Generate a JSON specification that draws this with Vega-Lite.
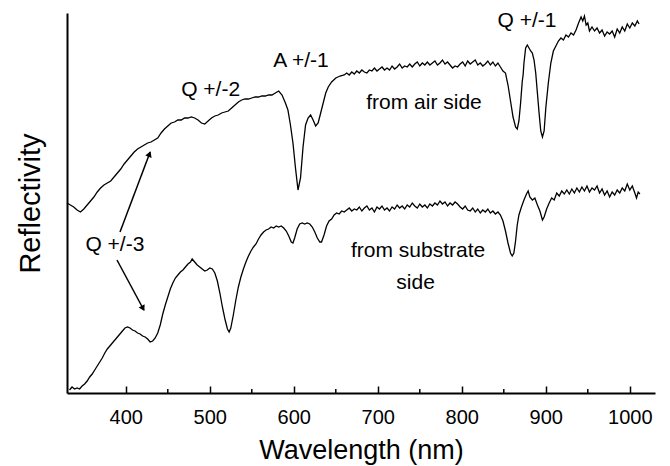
{
  "$schema": "https://vega.github.io/schema/vega-lite/v6.json",
  "width": 588,
  "height": 380,
  "autosize": {"type": "none"},
  "padding": {"left": 67, "top": 13, "right": 15, "bottom": 73},
  "background": "white",
  "config": {"view": {"stroke": null}, "font": "Liberation Sans"},
  "datasets": {
    "top": [
      {"nm":330,"r":190},{"nm":334,"r":188},{"nm":338,"r":186},{"nm":342,"r":183},{"nm":346,"r":181},{"nm":350,"r":184},{"nm":354,"r":188},{"nm":358,"r":192},{"nm":362,"r":196},{"nm":366,"r":201},{"nm":370,"r":205},{"nm":374,"r":208},{"nm":378,"r":210},{"nm":382,"r":212},{"nm":386,"r":216},{"nm":390,"r":220},{"nm":394,"r":224},{"nm":398,"r":229},{"nm":402,"r":233},{"nm":406,"r":237},{"nm":410,"r":241},{"nm":414,"r":244},{"nm":418,"r":246},{"nm":422,"r":248},{"nm":426,"r":250},{"nm":430,"r":251},{"nm":434,"r":253},{"nm":438,"r":255},{"nm":442,"r":260},{"nm":446,"r":264},{"nm":450,"r":267},{"nm":454,"r":270},{"nm":458,"r":271},{"nm":462,"r":273},{"nm":466,"r":273},{"nm":470,"r":275},{"nm":474,"r":275},{"nm":478,"r":276},{"nm":482,"r":275},{"nm":486,"r":273},{"nm":490,"r":270},{"nm":494,"r":269},{"nm":498,"r":272},{"nm":502,"r":275},{"nm":506,"r":277},{"nm":510,"r":278},{"nm":514,"r":280},{"nm":518,"r":281},{"nm":522,"r":282},{"nm":526,"r":285},{"nm":530,"r":288},{"nm":534,"r":291},{"nm":538,"r":293},{"nm":542,"r":294},{"nm":546,"r":294},{"nm":550,"r":295},{"nm":554,"r":296},{"nm":558,"r":296},{"nm":562,"r":297},{"nm":566,"r":297},{"nm":570,"r":298},{"nm":574,"r":298},{"nm":578,"r":300},{"nm":582,"r":302},{"nm":586,"r":298},{"nm":590,"r":290},{"nm":593,"r":283},{"nm":596,"r":268},{"nm":599,"r":250},{"nm":602,"r":225},{"nm":605,"r":203},{"nm":608,"r":215},{"nm":611,"r":246},{"nm":614,"r":268},{"nm":617,"r":275},{"nm":620,"r":278},{"nm":623,"r":273},{"nm":626,"r":267},{"nm":629,"r":270},{"nm":632,"r":280},{"nm":635,"r":290},{"nm":638,"r":300},{"nm":641,"r":306},{"nm":645,"r":311},{"nm":650,"r":315},{"nm":655,"r":317},{"nm":660,"r":318},
      {"nm":663,"r":320},{"nm":666,"r":318},{"nm":669,"r":321},{"nm":672,"r":319},{"nm":675,"r":322},{"nm":678,"r":320},{"nm":681,"r":323},{"nm":684,"r":321},{"nm":687,"r":320},{"nm":690,"r":323},{"nm":693,"r":322},{"nm":696,"r":325},{"nm":699,"r":322},{"nm":702,"r":324},{"nm":705,"r":326},{"nm":708,"r":323},{"nm":711,"r":325},{"nm":714,"r":323},{"nm":717,"r":327},{"nm":720,"r":324},{"nm":723,"r":326},{"nm":726,"r":329},{"nm":729,"r":325},{"nm":732,"r":327},{"nm":735,"r":326},{"nm":738,"r":329},{"nm":741,"r":326},{"nm":744,"r":329},{"nm":747,"r":331},{"nm":750,"r":327},{"nm":753,"r":330},{"nm":756,"r":328},{"nm":759,"r":331},{"nm":762,"r":328},{"nm":765,"r":330},{"nm":768,"r":332},{"nm":771,"r":328},{"nm":774,"r":330},{"nm":777,"r":333},{"nm":780,"r":329},{"nm":783,"r":331},{"nm":786,"r":328},{"nm":789,"r":325},{"nm":792,"r":327},{"nm":795,"r":326},{"nm":798,"r":329},{"nm":801,"r":331},{"nm":804,"r":327},{"nm":807,"r":332},{"nm":810,"r":329},{"nm":813,"r":331},{"nm":816,"r":333},{"nm":819,"r":328},{"nm":822,"r":330},{"nm":825,"r":327},{"nm":828,"r":329},{"nm":831,"r":332},{"nm":834,"r":328},{"nm":837,"r":331},{"nm":840,"r":327},{"nm":843,"r":330},{"nm":846,"r":326},{"nm":849,"r":322},
      {"nm":852,"r":320},{"nm":855,"r":308},{"nm":858,"r":292},{"nm":861,"r":276},{"nm":864,"r":266},{"nm":866,"r":264},{"nm":868,"r":272},{"nm":870,"r":290},{"nm":872,"r":312},{"nm":873,"r":318},{"nm":874,"r":330},{"nm":876,"r":345},{"nm":878,"r":348},{"nm":880,"r":345},{"nm":882,"r":342},{"nm":884,"r":340},{"nm":886,"r":333},{"nm":888,"r":320},{"nm":890,"r":300},{"nm":892,"r":280},{"nm":894,"r":262},{"nm":896,"r":256},{"nm":898,"r":262},{"nm":900,"r":285},{"nm":903,"r":310},{"nm":906,"r":330},{"nm":909,"r":342},{"nm":912,"r":347},{"nm":915,"r":352},{"nm":918,"r":355},{"nm":921,"r":353},{"nm":924,"r":358},{"nm":927,"r":356},{"nm":930,"r":360},{"nm":933,"r":358},{"nm":936,"r":363},{"nm":939,"r":370},{"nm":942,"r":376},{"nm":944,"r":372},{"nm":946,"r":377},{"nm":948,"r":368},{"nm":950,"r":370},{"nm":952,"r":362},{"nm":955,"r":366},{"nm":958,"r":362},{"nm":961,"r":365},{"nm":964,"r":360},{"nm":967,"r":363},{"nm":970,"r":357},{"nm":973,"r":361},{"nm":976,"r":359},{"nm":979,"r":362},{"nm":982,"r":356},{"nm":985,"r":364},{"nm":988,"r":360},{"nm":991,"r":366},{"nm":994,"r":362},{"nm":997,"r":369},{"nm":1000,"r":365},{"nm":1003,"r":370},{"nm":1006,"r":367},{"nm":1009,"r":372},{"nm":1011,"r":369}
    ],
    "bottom": [
      {"nm":333,"r":3},{"nm":336,"r":6},{"nm":339,"r":4},{"nm":342,"r":5},{"nm":345,"r":4},{"nm":348,"r":7},{"nm":351,"r":9},{"nm":354,"r":12},{"nm":357,"r":16},{"nm":360,"r":19},{"nm":363,"r":23},{"nm":366,"r":27},{"nm":369,"r":31},{"nm":372,"r":35},{"nm":375,"r":40},{"nm":378,"r":44},{"nm":381,"r":47},{"nm":384,"r":50},{"nm":387,"r":53},{"nm":390,"r":56},{"nm":393,"r":59},{"nm":396,"r":62},{"nm":399,"r":65},{"nm":402,"r":66},{"nm":405,"r":65},{"nm":408,"r":63},{"nm":411,"r":62},{"nm":414,"r":60},{"nm":417,"r":59},{"nm":420,"r":57},{"nm":423,"r":56},{"nm":426,"r":54},{"nm":429,"r":51},{"nm":432,"r":52},{"nm":435,"r":55},{"nm":438,"r":60},{"nm":441,"r":68},{"nm":444,"r":79},{"nm":447,"r":88},{"nm":450,"r":96},{"nm":453,"r":104},{"nm":456,"r":110},{"nm":459,"r":115},{"nm":462,"r":118},{"nm":465,"r":121},{"nm":468,"r":123},{"nm":471,"r":126},{"nm":474,"r":129},{"nm":477,"r":131},{"nm":479,"r":134},{"nm":482,"r":131},{"nm":485,"r":128},{"nm":488,"r":126},{"nm":491,"r":124},{"nm":494,"r":122},{"nm":497,"r":123},{"nm":500,"r":125},{"nm":503,"r":124},{"nm":506,"r":120},{"nm":509,"r":112},{"nm":512,"r":100},{"nm":515,"r":86},{"nm":518,"r":74},{"nm":521,"r":64},{"nm":523,"r":61},{"nm":525,"r":65},{"nm":528,"r":78},{"nm":531,"r":93},{"nm":534,"r":106},{"nm":537,"r":116},{"nm":540,"r":124},{"nm":543,"r":131},{"nm":546,"r":137},{"nm":549,"r":142},{"nm":552,"r":146},{"nm":555,"r":149},{"nm":558,"r":154},{"nm":561,"r":158},{"nm":564,"r":161},{"nm":567,"r":163},{"nm":570,"r":164},{"nm":573,"r":166},{"nm":576,"r":165},{"nm":579,"r":167},{"nm":582,"r":166},{"nm":585,"r":167},{"nm":588,"r":165},{"nm":591,"r":162},{"nm":594,"r":157},{"nm":597,"r":151},{"nm":599,"r":150},{"nm":601,"r":155},{"nm":604,"r":164},{"nm":607,"r":169},{"nm":610,"r":170},{"nm":613,"r":169},{"nm":616,"r":170},{"nm":619,"r":169},{"nm":622,"r":166},{"nm":625,"r":161},{"nm":628,"r":155},{"nm":631,"r":151},{"nm":633,"r":151},{"nm":636,"r":158},{"nm":639,"r":167},{"nm":642,"r":172},{"nm":645,"r":174},{"nm":648,"r":178},{"nm":651,"r":180},{"nm":654,"r":179},{"nm":657,"r":182},
      {"nm":660,"r":181},{"nm":663,"r":183},{"nm":666,"r":185},{"nm":669,"r":182},{"nm":672,"r":184},{"nm":675,"r":183},{"nm":678,"r":186},{"nm":681,"r":182},{"nm":684,"r":185},{"nm":687,"r":187},{"nm":690,"r":183},{"nm":693,"r":185},{"nm":696,"r":181},{"nm":699,"r":186},{"nm":702,"r":184},{"nm":705,"r":187},{"nm":708,"r":183},{"nm":711,"r":185},{"nm":714,"r":182},{"nm":717,"r":186},{"nm":720,"r":184},{"nm":723,"r":188},{"nm":726,"r":185},{"nm":729,"r":187},{"nm":732,"r":184},{"nm":735,"r":188},{"nm":738,"r":186},{"nm":741,"r":190},{"nm":744,"r":187},{"nm":747,"r":185},{"nm":750,"r":189},{"nm":753,"r":186},{"nm":756,"r":188},{"nm":759,"r":185},{"nm":762,"r":189},{"nm":765,"r":187},{"nm":768,"r":190},{"nm":771,"r":188},{"nm":774,"r":192},{"nm":777,"r":189},{"nm":780,"r":191},{"nm":783,"r":187},{"nm":786,"r":190},{"nm":789,"r":188},{"nm":792,"r":191},{"nm":795,"r":189},{"nm":798,"r":186},{"nm":801,"r":184},{"nm":804,"r":187},{"nm":807,"r":183},{"nm":810,"r":182},{"nm":813,"r":185},{"nm":816,"r":181},{"nm":819,"r":184},{"nm":822,"r":180},{"nm":825,"r":183},{"nm":828,"r":181},{"nm":831,"r":184},{"nm":834,"r":180},{"nm":837,"r":182},{"nm":840,"r":179},{"nm":843,"r":181},{"nm":846,"r":178},{"nm":849,"r":172},{"nm":852,"r":162},{"nm":855,"r":150},{"nm":858,"r":140},{"nm":860,"r":137},{"nm":862,"r":140},{"nm":864,"r":152},{"nm":866,"r":168},{"nm":868,"r":178},{"nm":871,"r":186},{"nm":874,"r":193},{"nm":877,"r":199},{"nm":879,"r":202},{"nm":881,"r":196},{"nm":884,"r":193},{"nm":887,"r":195},{"nm":890,"r":188},{"nm":893,"r":182},{"nm":896,"r":173},{"nm":898,"r":176},{"nm":901,"r":184},{"nm":904,"r":190},{"nm":907,"r":195},{"nm":910,"r":193},{"nm":913,"r":200},{"nm":916,"r":197},{"nm":919,"r":202},{"nm":922,"r":199},{"nm":925,"r":203},{"nm":928,"r":199},{"nm":931,"r":204},{"nm":934,"r":200},{"nm":937,"r":205},{"nm":940,"r":201},{"nm":943,"r":206},{"nm":946,"r":202},{"nm":949,"r":207},{"nm":952,"r":201},{"nm":955,"r":205},{"nm":958,"r":203},{"nm":961,"r":207},{"nm":964,"r":200},{"nm":967,"r":204},{"nm":970,"r":198},{"nm":973,"r":202},{"nm":976,"r":196},{"nm":979,"r":201},{"nm":982,"r":198},{"nm":985,"r":203},{"nm":988,"r":200},{"nm":991,"r":205},{"nm":994,"r":202},{"nm":997,"r":209},{"nm":1000,"r":203},{"nm":1003,"r":207},{"nm":1006,"r":200},{"nm":1008,"r":195},{"nm":1010,"r":201},{"nm":1012,"r":199}
    ],
    "labels": [
      {"nm":501,"r":303,"t":"Q +/-2"},
      {"nm":608.6,"r":332,"t":"A +/-1"},
      {"nm":877.6,"r":372,"t":"Q +/-1"},
      {"nm":755,"r":290,"t":"from air side"},
      {"nm":748,"r":142,"t":"from substrate"},
      {"nm":745,"r":110,"t":"side"},
      {"nm":387,"r":148,"t":"Q +/-3"}
    ],
    "arrows": [
      {"x1":393.1,"y1":161,"x2":429,"y2":241},
      {"x1":389.5,"y1":133,"x2":421.5,"y2":83}
    ],
    "heads": [
      {"nm":428.2,"r":239,"shape":"triangle-up","ang":21},
      {"nm":420.5,"r":84.5,"shape":"triangle-up","ang":152}
    ],
    "minor": [{"nm":450},{"nm":550},{"nm":650},{"nm":750},{"nm":850},{"nm":950}]
  },
  "layer": [
    {
      "data": {"name": "top"},
      "mark": {"type": "line", "color": "black", "strokeWidth": 1.3},
      "encoding": {
        "x": {"field": "nm", "type": "quantitative",
              "scale": {"domain": [330, 1030], "nice": false, "zero": false},
              "axis": {"values": [400,500,600,700,800,900,1000], "format": "d",
                       "grid": false, "domainColor": "black", "domainWidth": 2,
                       "tickColor": "black", "tickWidth": 1.5, "tickSize": -7,
                       "labelFontSize": 20, "labelColor": "black", "labelPadding": 21,
                       "title": "Wavelength (nm)", "titleFontSize": 27, "titleFontWeight": "normal",
                       "titleColor": "black", "titlePadding": 10}},
        "y": {"field": "r", "type": "quantitative",
              "scale": {"domain": [0, 380], "nice": false, "zero": false},
              "axis": {"ticks": false, "labels": false, "grid": false, "domainColor": "black",
                       "domainWidth": 2, "title": "Reflectivity", "titleFontSize": 29,
                       "titleFontWeight": "normal", "titleColor": "black", "titlePadding": 22}}
      }
    },
    {
      "data": {"name": "bottom"},
      "mark": {"type": "line", "color": "black", "strokeWidth": 1.3},
      "encoding": {
        "x": {"field": "nm", "type": "quantitative"},
        "y": {"field": "r", "type": "quantitative"}
      }
    },
    {
      "data": {"name": "minor"},
      "mark": {"type": "rule", "color": "black", "strokeWidth": 1.5},
      "encoding": {
        "x": {"field": "nm", "type": "quantitative"},
        "y": {"datum": 0},
        "y2": {"datum": 4}
      }
    },
    {
      "data": {"name": "labels"},
      "mark": {"type": "text", "fontSize": 21, "color": "black", "baseline": "middle", "align": "center"},
      "encoding": {
        "x": {"field": "nm", "type": "quantitative"},
        "y": {"field": "r", "type": "quantitative"},
        "text": {"field": "t"}
      }
    },
    {
      "data": {"name": "arrows"},
      "mark": {"type": "rule", "color": "black", "strokeWidth": 1.5},
      "encoding": {
        "x": {"field": "x1", "type": "quantitative"},
        "y": {"field": "y1", "type": "quantitative"},
        "x2": {"field": "x2"},
        "y2": {"field": "y2"}
      }
    },
    {
      "data": {"name": "heads"},
      "mark": {"type": "point", "filled": true, "color": "black", "size": 45, "opacity": 1},
      "encoding": {
        "x": {"field": "nm", "type": "quantitative"},
        "y": {"field": "r", "type": "quantitative"},
        "shape": {"field": "shape", "type": "nominal", "scale": null, "legend": null},
        "angle": {"field": "ang", "type": "quantitative", "scale": null}
      }
    }
  ]
}
